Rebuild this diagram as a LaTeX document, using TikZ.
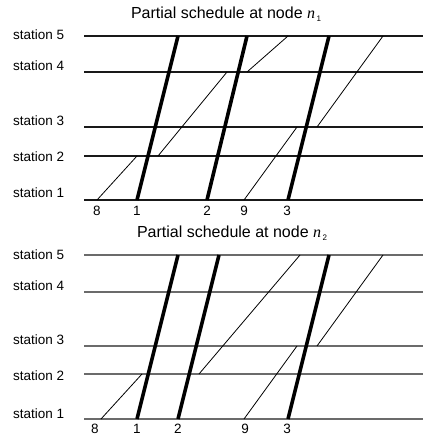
\documentclass[tikz,border=0pt]{standalone}
\usepackage{fontspec}
\setmainfont{Liberation Sans}
\newfontfamily\serifit{Liberation Serif}
\begin{document}
\begin{tikzpicture}[x=1pt,y=-1pt,
  lbl/.style={anchor=west,inner sep=0pt,font=\fontsize{13.5}{15}\selectfont},
  num/.style={inner sep=0pt,font=\fontsize{13.5}{15}\selectfont},
  ttl/.style={inner sep=0pt,font=\fontsize{16}{18}\selectfont},
  stline/.style={line width=1.2pt,draw=black!90},
  stlineg/.style={line width=1.2pt,draw=black!58},
  trainbold/.style={line width=3.6pt,line cap=butt},
  trainthin/.style={line width=0.8pt}]
\useasboundingbox (0,0) rectangle (423,438);
% ---------- top panel ----------
\node[ttl] (t1) at (226,14) {Partial schedule at node {\serifit\itshape n}\raisebox{-0.4ex}{\fontsize{8}{9}\selectfont\,1}};
\foreach \n/\y/\ly in {5/36/35,4/72/66,3/127/121,2/156/157,1/200/193}{
  \node[lbl] (as\n) at (13,\ly) {station \n};
  \coordinate (al\n) at (84,\y);
  \coordinate (ar\n) at (423,\y);
  \draw[stline] (al\n) -- (ar\n);
}
\coordinate (a1b) at (137,200); \coordinate (a1t) at (178,36);
\coordinate (a2b) at (207,200); \coordinate (a2t) at (247,36);
\coordinate (a3b) at (288,200); \coordinate (a3t) at (329,36);
\draw[trainbold] (a1b) -- (a1t);
\draw[trainbold] (a2b) -- (a2t);
\draw[trainbold] (a3b) -- (a3t);
\coordinate (a8a) at (97,200); \coordinate (a8b) at (137,156);
\coordinate (a8c) at (158,156); \coordinate (a8d) at (227,72);
\coordinate (a8e) at (247,72); \coordinate (a8f) at (288,36);
\draw[trainthin] (a8a) -- (a8b);
\draw[trainthin] (a8c) -- (a8d);
\draw[trainthin] (a8e) -- (a8f);
\coordinate (a9a) at (244,200); \coordinate (a9b) at (297,127);
\coordinate (a9c) at (317,127); \coordinate (a9d) at (383,36);
\draw[trainthin] (a9a) -- (a9b);
\draw[trainthin] (a9c) -- (a9d);
\foreach \t/\x in {8/97,1/137,2/207,9/244,3/287}{
  \node[num] (an\t) at (\x,211) {\t};
}
% ---------- bottom panel ----------
\node[ttl] (t2) at (232,233) {Partial schedule at node {\serifit\itshape n}\raisebox{-0.4ex}{\fontsize{8}{9}\selectfont\,2}};
\foreach \n/\y/\ly in {5/255/255,4/292/286,3/346/340,2/374/376,1/419/414}{
  \node[lbl] (bs\n) at (13,\ly) {station \n};
  \coordinate (bl\n) at (84,\y);
  \coordinate (br\n) at (423,\y);
  \draw[stlineg] (bl\n) -- (br\n);
}
\coordinate (b1b) at (137,419); \coordinate (b1t) at (178,255);
\coordinate (b2b) at (178,419); \coordinate (b2t) at (219,255);
\coordinate (b3b) at (288,419); \coordinate (b3t) at (329,255);
\draw[trainbold] (b1b) -- (b1t);
\draw[trainbold] (b2b) -- (b2t);
\draw[trainbold] (b3b) -- (b3t);
\coordinate (b8a) at (101,419); \coordinate (b8b) at (142,374);
\coordinate (b8c) at (199,374); \coordinate (b8d) at (300,255);
\draw[trainthin] (b8a) -- (b8b);
\draw[trainthin] (b8c) -- (b8d);
\coordinate (b9a) at (244,419); \coordinate (b9b) at (297,346);
\coordinate (b9c) at (317,346); \coordinate (b9d) at (383,255);
\draw[trainthin] (b9a) -- (b9b);
\draw[trainthin] (b9c) -- (b9d);
\foreach \t/\x in {8/95,1/137,2/178,9/245,3/287}{
  \node[num] (bn\t) at (\x,429) {\t};
}
\end{tikzpicture}
\end{document}
